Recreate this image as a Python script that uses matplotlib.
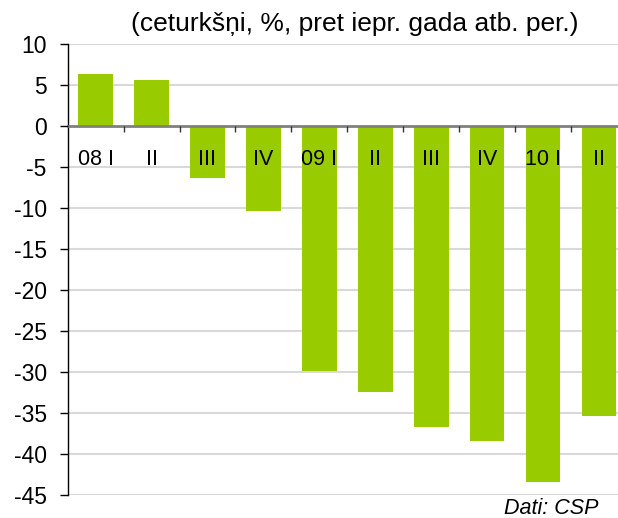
import matplotlib
matplotlib.use("Agg")
import matplotlib.pyplot as plt
import numpy as np

plt.rcParams['font.family'] = ['Liberation Sans', 'DejaVu Sans']

categories = ["08 I", "II", "III", "IV", "09 I", "II", "III", "IV", "10 I", "II"]
values = [6.4, 5.7, -6.3, -10.3, -29.8, -32.4, -36.7, -38.4, -43.4, -35.3]
yticks = [10, 5, 0, -5, -10, -15, -20, -25, -30, -35, -40, -45]
title = "(ceturkšņi, %, pret iepr. gada atb. per.)"
source = "Dati: CSP"

fig = plt.figure(figsize=(6.18, 5.18), dpi=100)
ax = fig.add_axes([0.1095, 0.0438, 0.8905, 0.8707])

x = np.arange(len(categories))
ax.bar(x, values, width=0.62, color="#99CC00", zorder=1)

ax.set_xlim(-0.5, 9.34)
ax.set_ylim(-45, 10)

# gridlines below bars
ax.hlines([t for t in yticks if t != 0], -0.5, 9.34, colors="#d9d9d9", linewidth=1.5, zorder=0)

ax.set_yticks(yticks)
ax.set_yticklabels([str(t) for t in yticks])
ax.tick_params(axis='y', direction='out', length=6, width=1, pad=9, colors='black', labelsize=16.5)

ax.set_xticks(x)
ax.set_xticklabels(categories)
ax.tick_params(axis='x', which='major', length=0, pad=16, labelsize=15.5)
ax.set_xticks(np.arange(len(categories) - 1) + 0.5, minor=True)
ax.tick_params(axis='x', which='minor', direction='out', length=4, width=1, color='#333333')

for s in ['top', 'right']:
    ax.spines[s].set_visible(False)
ax.spines['bottom'].set_position(('data', 0))
ax.spines['bottom'].set_color('#808080')
ax.spines['bottom'].set_linewidth(2)
ax.spines['left'].set_color('black')
ax.spines['left'].set_linewidth(1)
ax.set_axisbelow(False)
for a in [ax.xaxis, ax.yaxis]:
    a.set_zorder(3)
ax.spines['bottom'].set_zorder(3)

fig.text(355 / 618, 1 - 24 / 518, title, ha='center', va='center', fontsize=19)
fig.text(598 / 618, 1 - 509 / 518, source, ha='right', va='center', fontsize=15.5, style='italic')

fig.savefig("out.png", dpi=100)
